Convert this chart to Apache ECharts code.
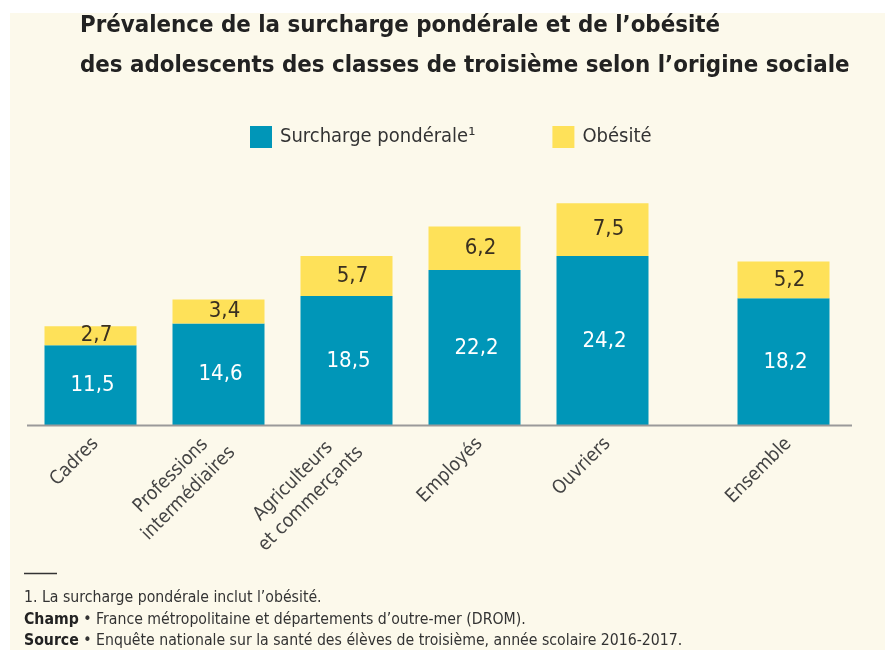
<!DOCTYPE html>
<html>
<head>
<meta charset="utf-8">
<script src="https://cdn.jsdelivr.net/npm/echarts@6/dist/echarts.min.js"></script>
<style>
  html, body { margin: 0; padding: 0; background: #ffffff; }
  #chart { width: 885px; height: 650px; }
</style>
</head>
<body>
<div id="chart"></div>
<script>
const categories = ["Cadres", "Professions\nintermédiaires", "Agriculteurs\net commerçants", "Employés", "Ouvriers"];
const surcharge = [11.5, 14.6, 18.5, 22.2, 24.2];
const obesite = [2.7, 3.4, 5.7, 6.2, 7.5];
const totalCategory = ["Ensemble"];
const totalSurcharge = [18.2];
const totalObesite = [5.2];

const FONT = "'Liberation Sans Narrow', 'DejaVu Sans Condensed', sans-serif";
const BLUE = "#0096b8";
const YELLOW = "#fee159";
const CREAM = "#fcf9eb";

function fmt(params) {
  return params.value.toFixed(1).replace(".", ",");
}

// each line of a category label is centred within the label box
function categoryLabel(value) {
  return value.split("\n").map((line) => `{l|${line}}`).join("\n");
}

function barSeries(name, data, axisIndex, color, labelColor, stack, dx) {
  return {
    name,
    type: "bar",
    stack,
    xAxisIndex: axisIndex,
    yAxisIndex: axisIndex,
    data,
    barWidth: 92,
    itemStyle: { color },
    label: {
      show: true,
      position: "inside",
      formatter: fmt,
      color: labelColor,
      fontFamily: FONT,
      fontSize: 22,
      offset: [dx, 0],
    },
  };
}

const chart = echarts.init(document.getElementById("chart"));

const xAxisBase = {
  type: "category",
  axisLine: { show: false },
  axisTick: { show: false },
  axisLabel: {
    interval: 0,
    rotate: 45,
    margin: 10,
    padding: [14, 0, 0, 0],
    color: "#444",
    fontFamily: FONT,
    fontSize: 19,
    formatter: categoryLabel,
    rich: {
      l: { align: "center", color: "#444", fontFamily: FONT, fontSize: 19, lineHeight: 25 },
    },
  },
};

const yAxisBase = { type: "value", min: 0, max: 40, show: false };

chart.setOption({
  backgroundColor: "#ffffff",
  animation: false,
  textStyle: { fontFamily: FONT },
  title: {
    text: "Prévalence de la surcharge pondérale et de l’obésité\ndes adolescents des classes de troisième selon l’origine sociale",
    left: 80,
    top: 6,
    padding: 0,
    textStyle: {
      fontFamily: FONT,
      fontSize: 23.8,
      fontWeight: "bold",
      lineHeight: 40,
      color: "#222",
    },
  },
  legend: {
    left: 245,
    top: 121,
    itemWidth: 22,
    itemHeight: 22,
    itemGap: 77,
    icon: "rect",
    data: ["Surcharge pondérale¹", "Obésité"],
    textStyle: { fontFamily: FONT, fontSize: 20, color: "#333", padding: [0, 0, 0, 3] },
  },
  grid: [
    { left: 26.5, width: 640, top: 145, height: 281 },
    { left: 719.5, width: 128, top: 145, height: 281 },
  ],
  xAxis: [
    { ...xAxisBase, gridIndex: 0, data: categories },
    { ...xAxisBase, gridIndex: 1, data: totalCategory },
  ],
  yAxis: [
    { ...yAxisBase, gridIndex: 0 },
    { ...yAxisBase, gridIndex: 1 },
  ],
  series: [
    barSeries("Surcharge pondérale¹", surcharge, 0, BLUE, "#ffffff", "g1", 2),
    barSeries("Obésité", obesite, 0, YELLOW, "#3a3020", "g1", 6),
    barSeries("Surcharge pondérale¹", totalSurcharge, 1, BLUE, "#ffffff", "g2", 2),
    barSeries("Obésité", totalObesite, 1, YELLOW, "#3a3020", "g2", 6),
  ],
  graphic: [
    {
      type: "rect",
      z: -10,
      silent: true,
      shape: { x: 10, y: 13, width: 875, height: 637 },
      style: { fill: CREAM },
    },
    {
      type: "line",
      z: 10,
      shape: { x1: 27, y1: 425.5, x2: 852, y2: 425.5 },
      style: { stroke: "#9a9a9a", lineWidth: 2 },
    },
    {
      type: "line",
      shape: { x1: 24, y1: 573.5, x2: 57, y2: 573.5 },
      style: { stroke: "#333", lineWidth: 1.5 },
    },
    {
      type: "text",
      left: 24,
      top: 590,
      style: {
        text: "1. La surcharge pondérale inclut l’obésité.",
        font: `15.7px ${FONT}`,
        fill: "#333",
      },
    },
    {
      type: "text",
      left: 24,
      top: 612,
      style: {
        text: "{b|Champ} • France métropolitaine et départements d’outre-mer (DROM).",
        font: `15.7px ${FONT}`,
        fill: "#333",
        rich: { b: { fontWeight: "bold", fontFamily: FONT, fontSize: 15.7, fill: "#222" } },
      },
    },
    {
      type: "text",
      left: 24,
      top: 633,
      style: {
        text: "{b|Source} • Enquête nationale sur la santé des élèves de troisième, année scolaire 2016-2017.",
        font: `15.7px ${FONT}`,
        fill: "#333",
        rich: { b: { fontWeight: "bold", fontFamily: FONT, fontSize: 15.7, fill: "#222" } },
      },
    },
  ],
});
</script>
</body>
</html>
